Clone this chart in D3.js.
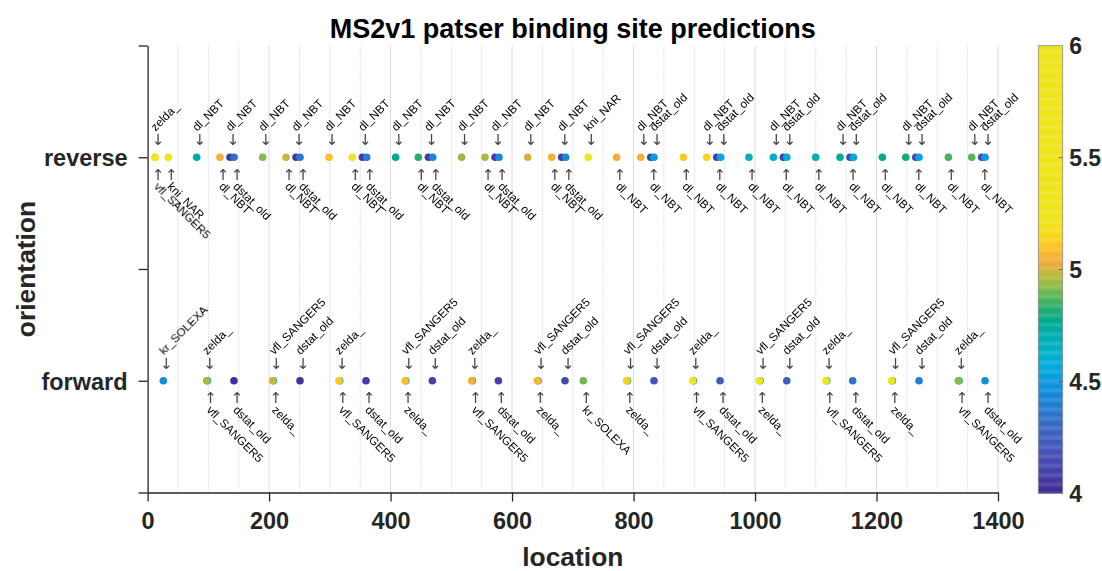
<!DOCTYPE html>
<html>
<head>
<meta charset="utf-8">
<script src="https://cdn.jsdelivr.net/npm/d3@7"></script>
<style>
  body { margin: 0; background: #fff; }
  text { font-family: "Liberation Sans", Arial, Helvetica, sans-serif; }
  text.arrow { font-family: "DejaVu Sans", sans-serif; }
</style>
</head>
<body>
<svg id="chart" width="1102" height="571"></svg>
<script>
// Patser hits on the MS2v1 construct, listed in strand order
// (forward strand: increasing location, reverse strand: decreasing location).
const fwdFactor = [
  "kr_SOLEXA", "vfl_SANGER5", "zelda_", "dstat_old",
  "vfl_SANGER5", "zelda_", "dstat_old",
  "vfl_SANGER5", "zelda_", "dstat_old",
  "vfl_SANGER5", "zelda_", "dstat_old",
  "vfl_SANGER5", "zelda_", "dstat_old",
  "vfl_SANGER5", "zelda_", "dstat_old", "kr_SOLEXA",
  "vfl_SANGER5", "zelda_", "dstat_old",
  "vfl_SANGER5", "zelda_", "dstat_old",
  "vfl_SANGER5", "zelda_", "dstat_old",
  "vfl_SANGER5", "zelda_", "dstat_old",
  "vfl_SANGER5", "zelda_", "dstat_old",
  "vfl_SANGER5", "zelda_", "dstat_old"
];
const fwdLocation = [
  25.9, 98.5, 97.3, 142.2,
  207.1, 205.9, 250.9,
  316.3, 315.1, 359.6,
  425.0, 423.8, 468.8,
  534.8, 533.6, 577.5,
  642.8, 641.6, 687.2, 717.3,
  790.0, 788.8, 833.7,
  898.6, 897.4, 942.4,
  1008.3, 1007.1, 1052.2,
  1118.1, 1116.9, 1160.8,
  1226.2, 1225.0, 1270.0,
  1335.9, 1334.7, 1378.7
];
const fwdScore = [
  4.46, 4.70, 4.95, 4.02,
  4.68, 4.99, 4.04,
  4.71, 5.11, 4.08,
  4.69, 5.10, 4.10,
  4.72, 5.05, 4.11,
  4.70, 5.08, 4.14, 4.90,
  4.73, 5.13, 4.18,
  4.70, 5.25, 4.21,
  4.71, 5.30, 4.25,
  4.69, 5.35, 4.33,
  4.72, 5.30, 4.41,
  4.70, 4.92, 4.46
];

const revFactor = [
  "dstat_old", "dl_NBT", "dl_NBT", "dl_NBT",
  "dstat_old", "dl_NBT", "dl_NBT", "dl_NBT",
  "dstat_old", "dl_NBT", "dl_NBT", "dl_NBT",
  "dstat_old", "dl_NBT", "dl_NBT", "dl_NBT",
  "dstat_old", "dl_NBT", "dl_NBT", "dl_NBT",
  "dstat_old", "dl_NBT", "dl_NBT", "dl_NBT",
  "kni_NAR", "dstat_old", "dl_NBT", "dl_NBT", "dl_NBT",
  "dstat_old", "dl_NBT", "dl_NBT", "dl_NBT",
  "dstat_old", "dl_NBT", "dl_NBT", "dl_NBT",
  "dstat_old", "dl_NBT", "dl_NBT", "dl_NBT",
  "dstat_old", "dl_NBT", "dl_NBT", "dl_NBT",
  "dstat_old", "dl_NBT", "dl_NBT", "dl_NBT",
  "kni_NAR", "zelda_", "vfl_SANGER5"
];
const revLocation = [
  1378.7, 1373.2, 1356.7, 1318.3,
  1270.0, 1264.6, 1248.1, 1209.6,
  1161.9, 1156.4, 1140.0, 1099.9,
  1052.2, 1046.6, 1030.2, 990.0,
  943.5, 936.9, 920.5, 882.0,
  833.7, 828.3, 811.8, 772.3,
  725.6, 688.3, 681.7, 665.3, 625.8,
  578.5, 572.0, 555.5, 517.0,
  469.4, 462.3, 445.7, 408.4,
  360.7, 353.6, 337.1, 298.6,
  250.9, 244.3, 227.9, 189.5,
  142.3, 135.7, 119.2, 80.8,
  34.1, 12.2, 12.2
];
const revScore = [
  4.50, 4.12, 4.88, 4.86,
  4.55, 4.12, 4.80, 4.78,
  4.58, 4.12, 4.75, 4.69,
  4.58, 4.11, 4.66, 4.66,
  4.55, 4.09, 5.14, 5.11,
  4.52, 4.09, 5.05, 5.04,
  5.50, 4.45, 4.08, 5.06, 5.00,
  4.45, 4.08, 4.96, 4.94,
  4.42, 4.07, 4.83, 4.77,
  4.40, 4.07, 5.30, 5.10,
  4.38, 4.06, 4.99, 4.92,
  4.33, 4.06, 5.05, 4.72,
  5.50, 5.60, 5.50
];

const strandNames = ["forward", "reverse"];
const xTicks = [0, 200, 400, 600, 800, 1000, 1200, 1400];
const scoreTicks = [4, 4.5, 5, 5.5, 6];
const chartTitle = "MS2v1 patser binding site predictions";
const xTitle = "location";
const yTitle = "orientation";

// Score colormap (parula-like ramp saturating to yellow at the top end)
const cmapValues = [4.00, 4.10, 4.20, 4.30, 4.40, 4.48, 4.55, 4.62, 4.70, 4.77,
                    4.83, 4.88, 4.93, 4.98, 5.03, 5.08, 5.12, 5.17, 5.22, 6.00];
const cmapColors = ["#3e2a96", "#4541aa", "#4656b8", "#3a68c2", "#1f7ed3", "#0d92dc",
                    "#05a6e0", "#00b0cc", "#00adb0", "#00a98e", "#2aad6c", "#58b658",
                    "#8cbd45", "#c0b93a", "#eeab3c", "#f9b92c", "#fbcb1e", "#f3df1a",
                    "#f0e41a", "#f0e41a"];

const svg = d3.select("#chart");
const ink = "#262626";

const x = d3.scaleLinear().domain([0, 1400]).range([147.6, 998]);
const y = d3.scaleLinear().domain([0.5, 2.5]).range([492.5, 45.5]);
const color = d3.scaleLinear().domain(cmapValues).range(cmapColors)
  .interpolate(d3.interpolateRgb).clamp(true);

// grid: dotted minor lines every 50, solid major lines at the ticks
const minor = d3.range(50, 1400, 50).filter(v => v % 200 !== 0);
svg.append("g").selectAll("line").data(minor).join("line")
  .attr("x1", d => x(d)).attr("x2", d => x(d))
  .attr("y1", y(2.5)).attr("y2", y(0.5))
  .attr("stroke", "#c4c4c4").attr("stroke-width", 1)
  .attr("stroke-dasharray", "1,2");
svg.append("g").selectAll("line").data(xTicks.filter(v => v > 0)).join("line")
  .attr("x1", d => x(d)).attr("x2", d => x(d))
  .attr("y1", y(2.5)).attr("y2", y(0.5))
  .attr("stroke", "#dcdcdc").attr("stroke-width", 1);

// axes
const xAxis = svg.append("g").attr("transform", `translate(0,${y(0.5)})`)
  .call(d3.axisBottom(x).tickValues(xTicks).tickFormat(d3.format("d"))
    .tickSize(9).tickSizeOuter(0).tickPadding(11));
const yAxis = svg.append("g").attr("transform", `translate(${x(0)},0)`)
  .call(d3.axisLeft(y).tickValues([0.5, 1, 1.5, 2, 2.5])
    .tickFormat(d => d === 1 ? strandNames[0] : d === 2 ? strandNames[1] : "")
    .tickSize(9).tickSizeOuter(0).tickPadding(11));
[xAxis, yAxis].forEach(g => {
  g.select(".domain").attr("stroke", ink).attr("stroke-width", 1.3);
  g.selectAll(".tick line").attr("stroke", ink).attr("stroke-width", 1.3);
  g.selectAll(".tick text").attr("fill", ink).style("font-size", "23.5px")
    .style("font-weight", "bold");
});
yAxis.selectAll(".tick text").attr("dy", "0.36em");

// titles
svg.append("text").attr("x", (x(0) + x(1400)) / 2).attr("y", 38)
  .attr("text-anchor", "middle").attr("fill", "#000")
  .style("font-size", "27px").style("font-weight", "bold").text(chartTitle);
svg.append("text").attr("x", (x(0) + x(1400)) / 2).attr("y", 566)
  .attr("text-anchor", "middle").attr("fill", ink)
  .style("font-size", "26.4px").style("font-weight", "bold").text(xTitle);
svg.append("text").attr("transform", `translate(35,${(y(0.5) + y(2.5)) / 2}) rotate(-90)`)
  .attr("text-anchor", "middle").attr("fill", ink)
  .style("font-size", "26.4px").style("font-weight", "bold").text(yTitle);

// sites of both strands
const sites = [];
fwdFactor.forEach((f, i) => sites.push({ factor: f, loc: fwdLocation[i], score: fwdScore[i], strand: 1, above: i % 2 === 0 }));
revFactor.forEach((f, i) => sites.push({ factor: f, loc: revLocation[i], score: revScore[i], strand: 2, above: i % 2 === 0 }));

// markers, lower scores underneath
svg.append("g").selectAll("circle")
  .data(sites.slice().sort((a, b) => a.score - b.score)).join("circle")
  .attr("cx", d => x(d.loc)).attr("cy", d => y(d.strand))
  .attr("r", 3.8).attr("fill", d => color(d.score));

// annotations: arrow plus rotated factor name, alternating above / below
const arrows = svg.append("g").attr("opacity", 0.999);
const ann = svg.append("g");
sites.forEach(d => {
  const px = x(d.loc), py = y(d.strand);
  arrows.append("text").attr("class", "arrow")
    .attr("transform", `translate(${px + 3},${d.above ? py - 12 : py + 22.5}) rotate(0.01)`)
    .attr("text-anchor", "middle").attr("fill", "#444")
    .style("font-size", "15px").text(d.above ? "\u2193" : "\u2191");
  ann.append("text")
    .attr("transform", d.above
      ? `translate(${px + 0.5},${py - 25.5}) rotate(-45)`
      : `translate(${px - 1.5},${py + 30}) rotate(45)`)
    .attr("fill", "#000").style("font-size", "11.7px").text(d.factor);
});

// colorbar
const cb = { x0: 1038.3, w: 24.4 };
const cy = d3.scaleLinear().domain([4, 6]).range([493.3, 45.7]);
const steps = d3.range(4, 6, 0.005);
svg.append("g").selectAll("rect").data(steps).join("rect")
  .attr("x", cb.x0).attr("width", cb.w)
  .attr("y", d => cy(d + 0.005)).attr("height", cy(4) - cy(4.005) + 0.3)
  .attr("fill", d => color(d + 0.0025));
svg.append("rect").attr("x", cb.x0).attr("y", cy(6)).attr("width", cb.w)
  .attr("height", cy(4) - cy(6)).attr("fill", "none")
  .attr("stroke", "#8a8a8a").attr("stroke-width", 0.8);
const cbg = svg.append("g");
scoreTicks.forEach(t => {
  if (t > 4 && t < 6) {
    cbg.append("line").attr("x1", cb.x0 + cb.w - 4).attr("x2", cb.x0 + cb.w)
      .attr("y1", cy(t)).attr("y2", cy(t)).attr("stroke", "#555").attr("stroke-width", 0.8);
  }
  cbg.append("text").attr("x", cb.x0 + cb.w + 6.5).attr("y", cy(t)).attr("dy", "0.36em")
    .attr("fill", ink).style("font-size", "23px").style("font-weight", "bold")
    .text(d3.format("")(t));
});
</script>
</body>
</html>
